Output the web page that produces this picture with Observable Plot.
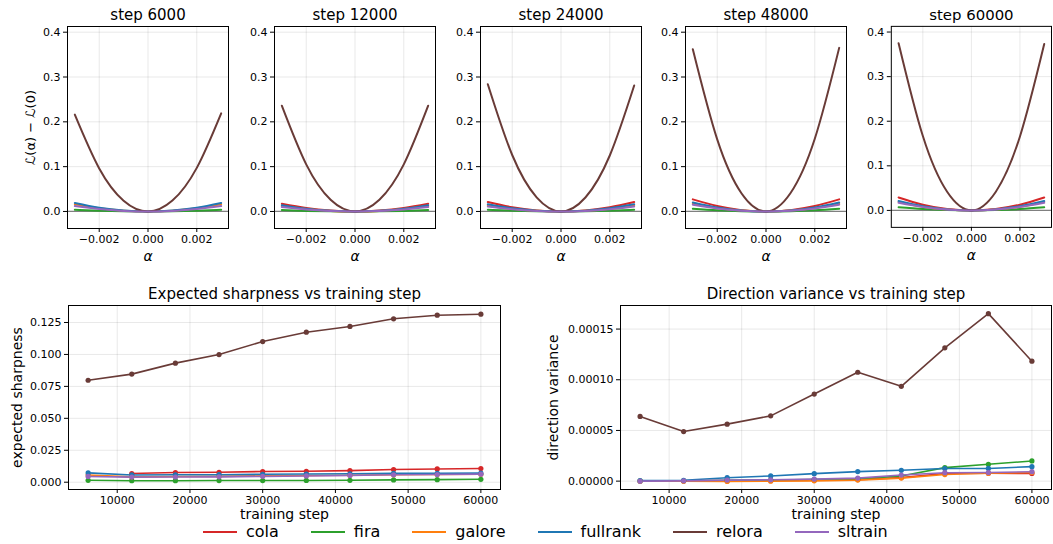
<!DOCTYPE html>
<html>
<head>
<meta charset="utf-8">
<script src="https://cdn.jsdelivr.net/npm/d3@7"></script>
<script src="https://cdn.jsdelivr.net/npm/@observablehq/plot@0.6"></script>
<style>
  html, body { margin: 0; padding: 0; background: #fff; }
  #root { position: relative; width: 1053px; height: 544px; overflow: hidden; background: #fff; font-family: "DejaVu Sans", sans-serif; }
  .panel { position: absolute; }
  .legend { position: absolute; left: 203px; top: 523px; display: flex; align-items: center; font-size: 16px; line-height: 17px; color: #000; white-space: nowrap; }
  .legend .item { display: flex; align-items: center; margin-right: 32px; }
  .legend svg { margin-right: 9px; }
</style>
</head>
<body>
<div id="root"></div>
<script>
// ---------- data ----------
const methods = ["cola", "fira", "galore", "fullrank", "relora", "sltrain"];
const methodColors = ["#d62728", "#2ca02c", "#ff7f0e", "#1f77b4", "#693b37", "#9467bd"];

// loss-landscape slices: L(alpha) - L(0), sampled at these alphas
const alphas = [-0.003, -0.002, -0.001, 0, 0.001, 0.002, 0.003];
const panelSteps = [6000, 12000, 24000, 48000, 60000];

const slice6000 = {
  cola: null,
  fira: [0.004, 0.0018, 0.0004, 0, 0.0004, 0.0018, 0.004],
  galore: [0.016, 0.0071, 0.0018, 0, 0.0018, 0.0071, 0.016],
  fullrank: [0.019, 0.0084, 0.0021, 0, 0.0021, 0.0084, 0.019],
  relora: [0.216, 0.096, 0.024, 0, 0.0243, 0.0973, 0.219],
  sltrain: [0.012, 0.0053, 0.0013, 0, 0.0013, 0.0053, 0.012]
};
const slice12000 = {
  cola: [0.017, 0.0076, 0.0019, 0, 0.0019, 0.0076, 0.017],
  fira: [0.003, 0.0013, 0.0003, 0, 0.0003, 0.0013, 0.003],
  galore: [0.012, 0.0053, 0.0013, 0, 0.0013, 0.0053, 0.012],
  fullrank: [0.014, 0.0062, 0.0016, 0, 0.0016, 0.0062, 0.014],
  relora: [0.236, 0.105, 0.026, 0, 0.026, 0.105, 0.236],
  sltrain: [0.010, 0.0044, 0.0011, 0, 0.0011, 0.0044, 0.010]
};
const slice24000 = {
  cola: [0.021, 0.0093, 0.0023, 0, 0.0023, 0.0093, 0.021],
  fira: [0.004, 0.0018, 0.0004, 0, 0.0004, 0.0018, 0.004],
  galore: [0.013, 0.0058, 0.0014, 0, 0.0014, 0.0058, 0.013],
  fullrank: [0.016, 0.0071, 0.0018, 0, 0.0018, 0.0071, 0.016],
  relora: [0.284, 0.126, 0.0316, 0, 0.0312, 0.1249, 0.281],
  sltrain: [0.011, 0.0049, 0.0012, 0, 0.0012, 0.0049, 0.011]
};
const slice48000 = {
  cola: [0.027, 0.012, 0.003, 0, 0.003, 0.012, 0.027],
  fira: [0.006, 0.0027, 0.0007, 0, 0.0007, 0.0027, 0.006],
  galore: [0.017, 0.0076, 0.0019, 0, 0.0019, 0.0076, 0.017],
  fullrank: [0.020, 0.0089, 0.0022, 0, 0.0022, 0.0089, 0.020],
  relora: [0.362, 0.1609, 0.0402, 0, 0.0406, 0.1622, 0.365],
  sltrain: [0.015, 0.0067, 0.0017, 0, 0.0017, 0.0067, 0.015]
};
const slice60000 = {
  cola: [0.029, 0.0129, 0.0032, 0, 0.0032, 0.0129, 0.029],
  fira: [0.007, 0.0031, 0.0008, 0, 0.0008, 0.0031, 0.007],
  galore: [0.019, 0.0084, 0.0021, 0, 0.0021, 0.0084, 0.019],
  fullrank: [0.021, 0.0093, 0.0023, 0, 0.0023, 0.0093, 0.021],
  relora: [0.375, 0.1667, 0.0417, 0, 0.0414, 0.1658, 0.373],
  sltrain: [0.017, 0.0076, 0.0019, 0, 0.0019, 0.0076, 0.017]
};
const slices = [slice6000, slice12000, slice24000, slice48000, slice60000];

// training-step series
const steps = [6000, 12000, 18000, 24000, 30000, 36000, 42000, 48000, 54000, 60000];

const sharpCola     = [null, 0.0068, 0.0076, 0.0078, 0.0084, 0.0086, 0.0091, 0.0099, 0.0104, 0.0107];
const sharpFira     = [0.0015, 0.0012, 0.0012, 0.0013, 0.0013, 0.0014, 0.0015, 0.0018, 0.0020, 0.0023];
const sharpGalore   = [0.0056, 0.0042, 0.0045, 0.0046, 0.0050, 0.0052, 0.0055, 0.0058, 0.0060, 0.0062];
const sharpFullrank = [0.0073, 0.0057, 0.0058, 0.0059, 0.0062, 0.0064, 0.0066, 0.0069, 0.0070, 0.0071];
const sharpRelora   = [0.0798, 0.0846, 0.0932, 0.0999, 0.1101, 0.1174, 0.1219, 0.1279, 0.1307, 0.1315];
const sharpSltrain  = [0.0045, 0.0040, 0.0041, 0.0042, 0.0046, 0.0049, 0.0053, 0.0058, 0.0060, 0.0063];

const varCola     = [null, 0.0000002, 0.0000004, 0.0000006, 0.0000010, 0.0000015, 0.0000035, 0.0000075, 0.0000078, 0.0000076];
const varFira     = [0.0000002, 0.0000004, 0.0000008, 0.0000010, 0.0000015, 0.0000022, 0.0000050, 0.0000133, 0.0000166, 0.0000199];
const varGalore   = [0.0000000, 0.0000000, -0.0000003, 0.0000000, 0.0000003, 0.0000010, 0.0000030, 0.0000065, 0.0000078, 0.0000085];
const varFullrank = [0.0000005, 0.0000008, 0.0000034, 0.0000051, 0.0000074, 0.0000094, 0.0000107, 0.0000124, 0.0000125, 0.0000143];
const varRelora   = [0.0000638, 0.0000489, 0.0000562, 0.0000644, 0.0000859, 0.0001074, 0.0000935, 0.0001315, 0.0001652, 0.0001183];
const varSltrain  = [0.0000000, 0.0000003, 0.0000010, 0.0000013, 0.0000020, 0.0000030, 0.0000060, 0.0000083, 0.0000085, 0.0000093];

// ticks
const sliceXTicks = [-0.002, 0, 0.002];
const sliceYTicks = [0, 0.1, 0.2, 0.3, 0.4];
const stepTicks = [10000, 20000, 30000, 40000, 50000, 60000];
const sharpTicks = [0, 0.025, 0.05, 0.075, 0.1, 0.125];
const varTicks = [0, 0.00005, 0.0001, 0.00015];

// ---------- build tidy tables ----------
const sharpSeries = [sharpCola, sharpFira, sharpGalore, sharpFullrank, sharpRelora, sharpSltrain];
const varSeries = [varCola, varFira, varGalore, varFullrank, varRelora, varSltrain];
function tidySteps(series) {
  const out = [];
  methods.forEach((m, i) => steps.forEach((s, j) => {
    const v = series[i][j];
    if (v !== null) out.push({method: m, step: s, value: v});
  }));
  return out;
}
const sharpRows = tidySteps(sharpSeries);
const varRows = tidySteps(varSeries);

const colorScale = {domain: methods, range: methodColors};
const font = "DejaVu Sans";
const gridStyle = {stroke: "#000", strokeOpacity: 0.09, strokeWidth: 1};
const centered = {textAnchor: "middle", lineAnchor: "middle"};
const root = document.getElementById("root");

function place(node, left, top) {
  const d = document.createElement("div");
  d.className = "panel";
  d.style.left = left + "px";
  d.style.top = top + "px";
  d.appendChild(node);
  root.appendChild(d);
}

// ---------- top row ----------
const frameLefts = [67, 274, 479.5, 685, 891];
slices.forEach((slice, k) => {
  const rows = [];
  methods.forEach(m => {
    if (!slice[m]) return;
    slice[m].forEach((v, j) => rows.push({method: m, alpha: alphas[j], value: v}));
  });
  const marks = [
    Plot.ruleX(sliceXTicks, gridStyle),
    Plot.ruleY(sliceYTicks, gridStyle),
    Plot.ruleY([0], {stroke: "#808080", strokeWidth: 1.2}),
    Plot.line(rows, {x: "alpha", y: "value", z: "method", stroke: "method", strokeWidth: 2, curve: "natural"}),
    Plot.frame({stroke: "#000", strokeWidth: 1}),
    Plot.text([`step ${panelSteps[k]}`], {frameAnchor: "top", dy: -11, fontSize: 15, ...centered}),
    Plot.text(["α"], {frameAnchor: "bottom", dy: 28, fontSize: 14, fontStyle: "italic", ...centered})
  ];
  if (k === 0) marks.push(Plot.text(["ℒ(α) − ℒ(0)"], {frameAnchor: "left", rotate: -90, dx: -37, fontSize: 13, ...centered}));
  const chart = Plot.plot({
    width: 203, height: 270,
    marginLeft: 40, marginRight: 2, marginTop: 26, marginBottom: 42,
    style: {fontFamily: font, fontSize: "11px", color: "#000", background: "transparent", overflow: "visible"},
    x: {domain: [-0.0033, 0.0033], ticks: sliceXTicks, tickFormat: d3.format(".3f"), label: null, tickSize: 4, tickPadding: 3},
    y: {domain: [-0.038, 0.4127], ticks: sliceYTicks, tickFormat: d3.format(".1f"), label: null, tickSize: 4, tickPadding: 3},
    color: colorScale,
    marks
  });
  place(chart, frameLefts[k] - 40, 0);
});

// ---------- bottom row ----------
function stepChart(rows, opts) {
  return Plot.plot({
    width: opts.width, height: 245,
    marginLeft: opts.marginLeft, marginRight: opts.marginRight, marginTop: 25, marginBottom: 36,
    style: {fontFamily: font, fontSize: "11px", color: "#000", background: "transparent", overflow: "visible"},
    x: {domain: [3300, 62700], ticks: stepTicks, tickFormat: d3.format("d"), label: null, tickSize: 4, tickPadding: 3},
    y: {domain: opts.yDomain, ticks: opts.yTicks, tickFormat: d3.format(opts.yFormat), label: null, tickSize: 4, tickPadding: 3},
    color: colorScale,
    marks: [
      Plot.ruleX(stepTicks, gridStyle),
      Plot.ruleY(opts.yTicks, gridStyle),
      Plot.line(rows, {x: "step", y: "value", z: "method", stroke: "method", strokeWidth: 1.6}),
      Plot.dot(rows, {x: "step", y: "value", fill: "method", r: 2.6}),
      Plot.frame({stroke: "#000", strokeWidth: 1}),
      Plot.text([opts.title], {frameAnchor: "top", dy: -11, fontSize: 15, ...centered}),
      Plot.text(["training step"], {frameAnchor: "bottom", dy: 25, fontSize: 14, ...centered}),
      Plot.text([opts.ylabel], {frameAnchor: "left", rotate: -90, dx: opts.ylabelDx, fontSize: 14, ...centered})
    ]
  });
}

place(stepChart(sharpRows, {
  width: 508, marginLeft: 68, marginRight: 8,
  yDomain: [-0.0057, 0.1383], yTicks: sharpTicks, yFormat: ".3f",
  title: "Expected sharpness vs training step", ylabel: "expected sharpness", ylabelDx: -51
}), 0, 280);

place(stepChart(varRows, {
  width: 513, marginLeft: 80, marginRight: 2,
  yDomain: [-0.00000825, 0.00017325], yTicks: varTicks, yFormat: ".5f",
  title: "Direction variance vs training step", ylabel: "direction variance", ylabelDx: -67
}), 540, 280);

// ---------- legend ----------
const legend = document.createElement("div");
legend.className = "legend";
methods.forEach((m, i) => {
  const item = document.createElement("div");
  item.className = "item";
  item.innerHTML = `<svg width="34" height="10"><line x1="0" x2="34" y1="5" y2="5" stroke="${methodColors[i]}" stroke-width="2"/></svg><span>${m}</span>`;
  legend.appendChild(item);
});
root.appendChild(legend);
</script>
</body>
</html>
